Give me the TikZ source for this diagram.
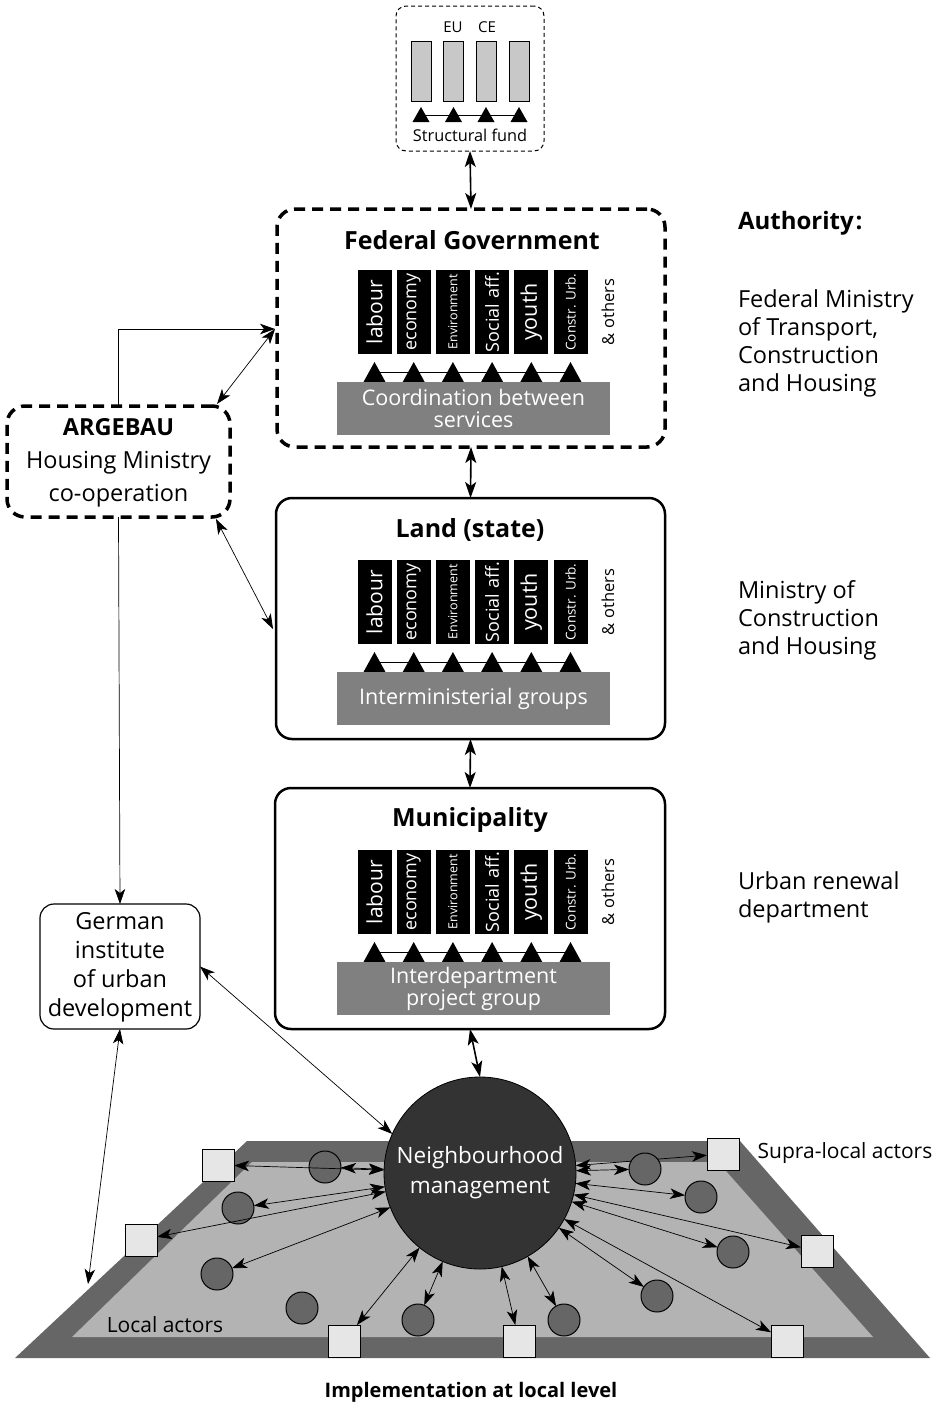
\documentclass[tikz,border=0pt]{standalone}
\usepackage{fontspec}
\setmainfont{Open Sans}
\usetikzlibrary{arrows.meta,calc}
\definecolor{grpgray}{HTML}{808080}
\definecolor{eugray}{HTML}{C8C8C8}
\definecolor{bandgray}{HTML}{666666}
\definecolor{fieldgray}{HTML}{B3B3B3}
\definecolor{sqgray}{HTML}{E6E6E6}
\definecolor{nmgray}{HTML}{333333}
\newcommand\fsz[2]{\fontsize{#1}{#2}\selectfont}

\newcommand\deptrow[3]{%
  \draw[line width=0.8pt] (374.5,{#2+102}) -- (570.5,{#2+102});
  \foreach \i/\lab/\sz in {0/labour/21,1/economy/18,2/Environment/12.5,3/Social aff./18,4/youth/21.5,5/Constr. Urb./13.5}{%
    \node[dept] (#1d\i) at ({374.5+39.2*\i},{#2+42}) {};
    \node[rotate=90,text=white,font=\fsz{\sz}{\sz}] (#1t\i) at (#1d\i) {\lab};
    \fill ({374.5+39.2*\i-11},{#2+112}) -- ({374.5+39.2*\i},{#2+92}) -- ({374.5+39.2*\i+11},{#2+112}) -- cycle;
  }
  \node[others] (#1o) at (608,{#2+42}) {\& others};
  \node[grp] (#1g) at (473.5,{#2+138.5}) {#3};
}

\begin{document}
\begin{tikzpicture}[x=1pt,y=-1pt,
  every node/.style={inner sep=0pt,outer sep=0pt},
  dept/.style={fill=black,minimum width=34pt,minimum height=84pt},
  others/.style={rotate=90,font=\fsz{16.5}{16}},
  grp/.style={fill=grpgray,minimum width=273pt,minimum height=53pt,text=white,align=center,font=\fsz{21.5}{22}},
  title/.style={font=\bfseries\fsz{25}{28}},
  thickdash/.style={draw,line width=3.5pt,dash pattern=on 11pt off 7pt,rounded corners=18pt},
  solidbox/.style={draw,line width=2.5pt,rounded corners=16pt},
  vertarr/.style={line width=1.6pt,<->,>={Stealth[length=16pt,width=11pt,inset=4pt]}},
  thinarr/.style={line width=0.7pt,<->,>={Stealth[length=15pt,width=10.5pt,inset=4pt]}},
  onearr/.style={line width=0.7pt,->,>={Stealth[length=15pt,width=10.5pt,inset=4pt]}},
  sq/.style={draw,line width=1pt,fill=sqgray,minimum size=32pt},
  act/.style={circle,draw,line width=1pt,fill=bandgray,minimum size=32pt},
  side/.style={anchor=west,align=left,font=\fsz{23.5}{28}}
]
\useasboundingbox (0,0) rectangle (938,1403);

% ---------- EU box ----------
\node[draw,line width=1pt,dash pattern=on 4pt off 3pt,rounded corners=10pt,minimum width=148pt,minimum height=145pt] (eu) at (470,78.5) {};
\node[font=\fsz{15}{15}] (eutxt) at (453,27) {EU};
\node[font=\fsz{15}{15}] (cetxt) at (487,27) {CE};
\draw[line width=0.8pt] (421,115) -- (519,115);
\foreach \i/\x in {1/421,2/453.5,3/486,4/519}{
  \node[draw,line width=0.8pt,fill=eugray,minimum width=20pt,minimum height=60pt] (eur\i) at (\x,71) {};
  \fill ({\x-8.5},122) -- (\x,107) -- ({\x+8.5},122) -- cycle;
}
\node[font=\fsz{16.3}{17}] (sfund) at (470,135) {Structural fund};

% ---------- Federal ----------
\node[thickdash,minimum width=388pt,minimum height=238pt] (fed) at (471,328) {};
\node[title] (fedt) at (472,240) {Federal Government};
\deptrow{f}{270}{Coordination between\\services}

% ---------- Land ----------
\node[solidbox,minimum width=389pt,minimum height=241pt] (land) at (470.5,618.5) {};
\node[title] (landt) at (470,530) {Land (state)};
\deptrow{l}{560}{Interministerial groups}

% ---------- Municipality ----------
\node[solidbox,minimum width=390pt,minimum height=241pt] (mun) at (470,908.5) {};
\node[title] (munt) at (470,820) {Municipality};
\deptrow{m}{850}{Interdepartment\\project group}

% ---------- Right column ----------
\node[side,font=\bfseries\fsz{24}{28}] (auth) at (738,223) {Authority\kern2pt:};
\node[side] (a1) at (738,343.5) {Federal Ministry\\of Transport,\\Construction\\and Housing};
\node[side] (a2) at (738,620) {Ministry of\\Construction\\and Housing};
\node[side] (a3) at (738,897) {Urban renewal\\department};

% ---------- ARGEBAU ----------
\node[thickdash,minimum width=223pt,minimum height=111pt] (arg) at (118.5,461.5) {};
\node[align=center,font=\fsz{23.5}{33}] (argt) at (118.5,463) {\textbf{ARGEBAU}\\Housing Ministry\\co-operation};

% ---------- German institute ----------
\node[draw,line width=1.2pt,rounded corners=14pt,minimum width=160pt,minimum height=125pt] (ger) at (120,966.5) {};
\node[align=center,font=\fsz{23.5}{29}] (gert) at (120,967) {German\\institute\\of urban\\development};

% ---------- Ground plane ----------
\fill[bandgray] (247,1141) -- (740,1141) -- (930,1358) -- (15,1358) -- cycle;
\fill[fieldgray] (252,1162) -- (718,1162) -- (873,1337) -- (72,1337) -- cycle;

\node[circle,fill=nmgray,draw=black,line width=0.8pt,minimum size=192pt,text=white,align=center,font=\fsz{22.5}{30}] (nm) at (480,1173) {Neighbourhood\\management};

\node[sq] (sq1) at (218,1165) {};
\node[sq] (sq2) at (141,1240) {};
\node[sq] (sq3) at (344,1341) {};
\node[sq] (sq4) at (519,1341) {};
\node[sq] (sq5) at (787,1341) {};
\node[sq] (sq6) at (817,1251) {};
\node[sq] (sq7) at (723,1154) {};

\draw[thinarr] (nm) -- (sq7);

\node[act] (ca) at (325,1167) {};
\node[act] (cb) at (238,1208) {};
\node[act] (cc) at (217,1274) {};
\node[act] (cd) at (302,1308) {};
\node[act] (ce) at (418,1320) {};
\node[act] (cf) at (564,1320) {};
\node[act] (cg) at (645,1169) {};
\node[act] (ch) at (701,1197) {};
\node[act] (ci) at (733,1252) {};
\node[act] (cj) at (657,1296) {};

\foreach \a in {ca,sq1,cb,sq2,cc,sq3,ce,sq4,cf,cj,sq5,ci,sq6,ch,cg}{
  \draw[thinarr] (\a) -- (nm);
}

\node[font=\fsz{21}{24}] (local) at (165,1325) {Local actors};
\node[font=\fsz{21}{24}] (supra) at (845,1153) {Supra-local actors};
\node[font=\bfseries\fsz{20}{22}] (impl) at (471,1392) {Implementation at local level};

% ---------- connectors ----------
\draw[vertarr] (eu.south) -- (fed.north);
\draw[vertarr] (fed.south) -- (land.north);
\draw[vertarr] (land.south) -- (mun.north);
\draw[vertarr] (mun.south) -- (nm.north);

\coordinate (fedW) at (275,329);
\coordinate (argNE) at (217,404);
\coordinate (argSE) at (216,519);
\coordinate (landW) at (273,629);
\coordinate (plane) at (88,1284);

\draw[onearr] (arg.north) |- (fedW);
\draw[thinarr] (argNE) -- (fedW);
\draw[thinarr] (argSE) -- (landW);
\draw[onearr] (arg.south) -- (ger.north);
\draw[thinarr] (ger.east) -- (nm.156);
\draw[thinarr] (ger.south) -- (plane);
\end{tikzpicture}
\end{document}
